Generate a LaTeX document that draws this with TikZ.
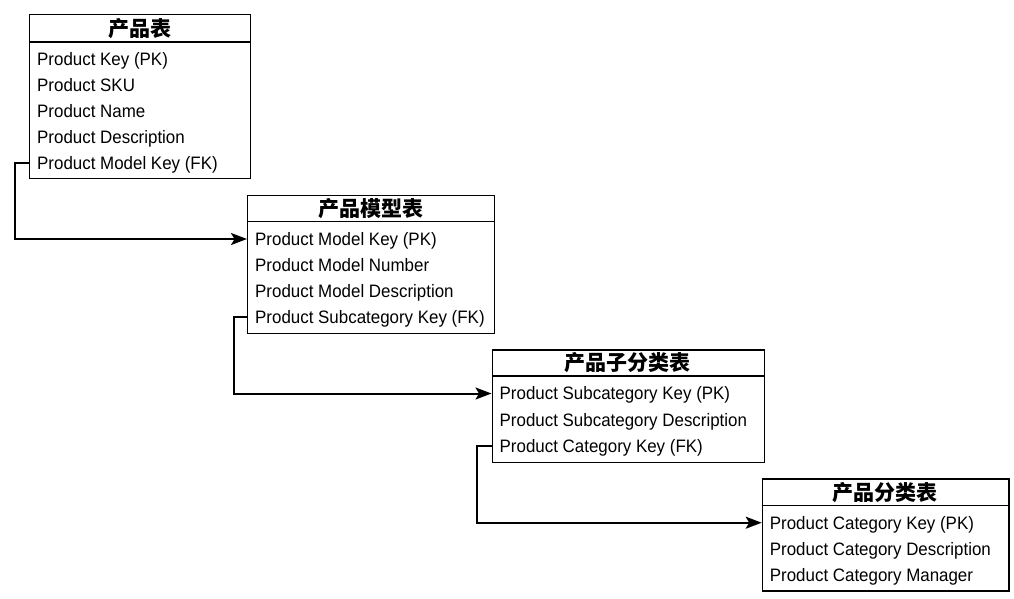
\documentclass[tikz,border=0pt]{standalone}
\usepackage{fontspec}
\setmainfont{Liberation Sans}[FakeStretch=0.94]
\newfontfamily\cjk{Noto Sans CJK SC}
\usetikzlibrary{arrows.meta}
\tikzset{
  frame/.style={draw, line width=1.4pt, anchor=north west, inner sep=0pt},
  sep/.style={line width=1.4pt},
  hdr/.style={font=\cjk\bfseries\fontsize{21}{23}\selectfont, inner sep=0pt},
  row/.style={anchor=west, inner xsep=8pt, inner ysep=0pt, text height=12.9pt, text depth=0pt, font=\fontsize{18}{20}\selectfont},
  conn/.style={line width=2pt, -{Stealth[length=16pt,width=12pt,inset=3.5pt]}}
}
\begin{document}
\begin{tikzpicture}[x=1pt,y=-1pt]
\useasboundingbox (0,0) rectangle (1014,598);
% Table 1
\node[frame, minimum width=221pt, minimum height=164pt] (t1) at (29,14) {};
\draw[sep] (t1.west |- 0,42) -- (t1.east |- 0,42);
\node[hdr] (t1h) at (139.5,28.5) {产品表};
\node[row] (t1r1) at (29,59) {Product Key (PK)};
\node[row] (t1r2) at (29,85) {Product SKU};
\node[row] (t1r3) at (29,111) {Product Name};
\node[row] (t1r4) at (29,137) {Product Description};
\node[row] (t1r5) at (29,163) {Product Model Key (FK)};
% Table 2
\node[frame, minimum width=247pt, minimum height=138pt] (t2) at (247,194.5) {};
\draw[sep] (t2.west |- 0,221.5) -- (t2.east |- 0,221.5);
\node[hdr] (t2h) at (370.5,208.5) {产品模型表};
\node[row] (t2r1) at (247,239) {Product Model Key (PK)};
\node[row] (t2r2) at (247,265) {Product Model Number};
\node[row] (t2r3) at (247,291) {Product Model Description};
\node[row] (t2r4) at (247,317) {Product Subcategory Key (FK)};
% Table 3
\node[frame, minimum width=272.5pt, minimum height=112.5pt] (t3) at (491.5,349.3) {};
\draw[sep] (t3.west |- 0,376) -- (t3.east |- 0,376);
\node[hdr] (t3h) at (627.8,363) {产品子分类表};
\node[row] (t3r1) at (491.5,393.5) {Product Subcategory Key (PK)};
\node[row] (t3r2) at (491.5,420) {Product Subcategory Description};
\node[row] (t3r3) at (491.5,446) {Product Category Key (FK)};
% Table 4
\node[frame, minimum width=246.5pt, minimum height=112pt] (t4) at (761.7,478.3) {};
\draw[sep] (t4.west |- 0,505.7) -- (t4.east |- 0,505.7);
\node[hdr] (t4h) at (885,492.5) {产品分类表};
\node[row] (t4r1) at (761.7,522.7) {Product Category Key (PK)};
\node[row] (t4r2) at (761.7,549) {Product Category Description};
\node[row] (t4r3) at (761.7,575) {Product Category Manager};
% Connectors
\draw[conn] (t1r5.west) -- ++(-14,0) |- (t2r1.west);
\draw[conn] (t2r4.west) -- ++(-13.3,0) |- (t3r1.west);
\draw[conn] (t3r3.west) -- ++(-14.3,0) |- (t4r1.west);
\end{tikzpicture}
\end{document}
